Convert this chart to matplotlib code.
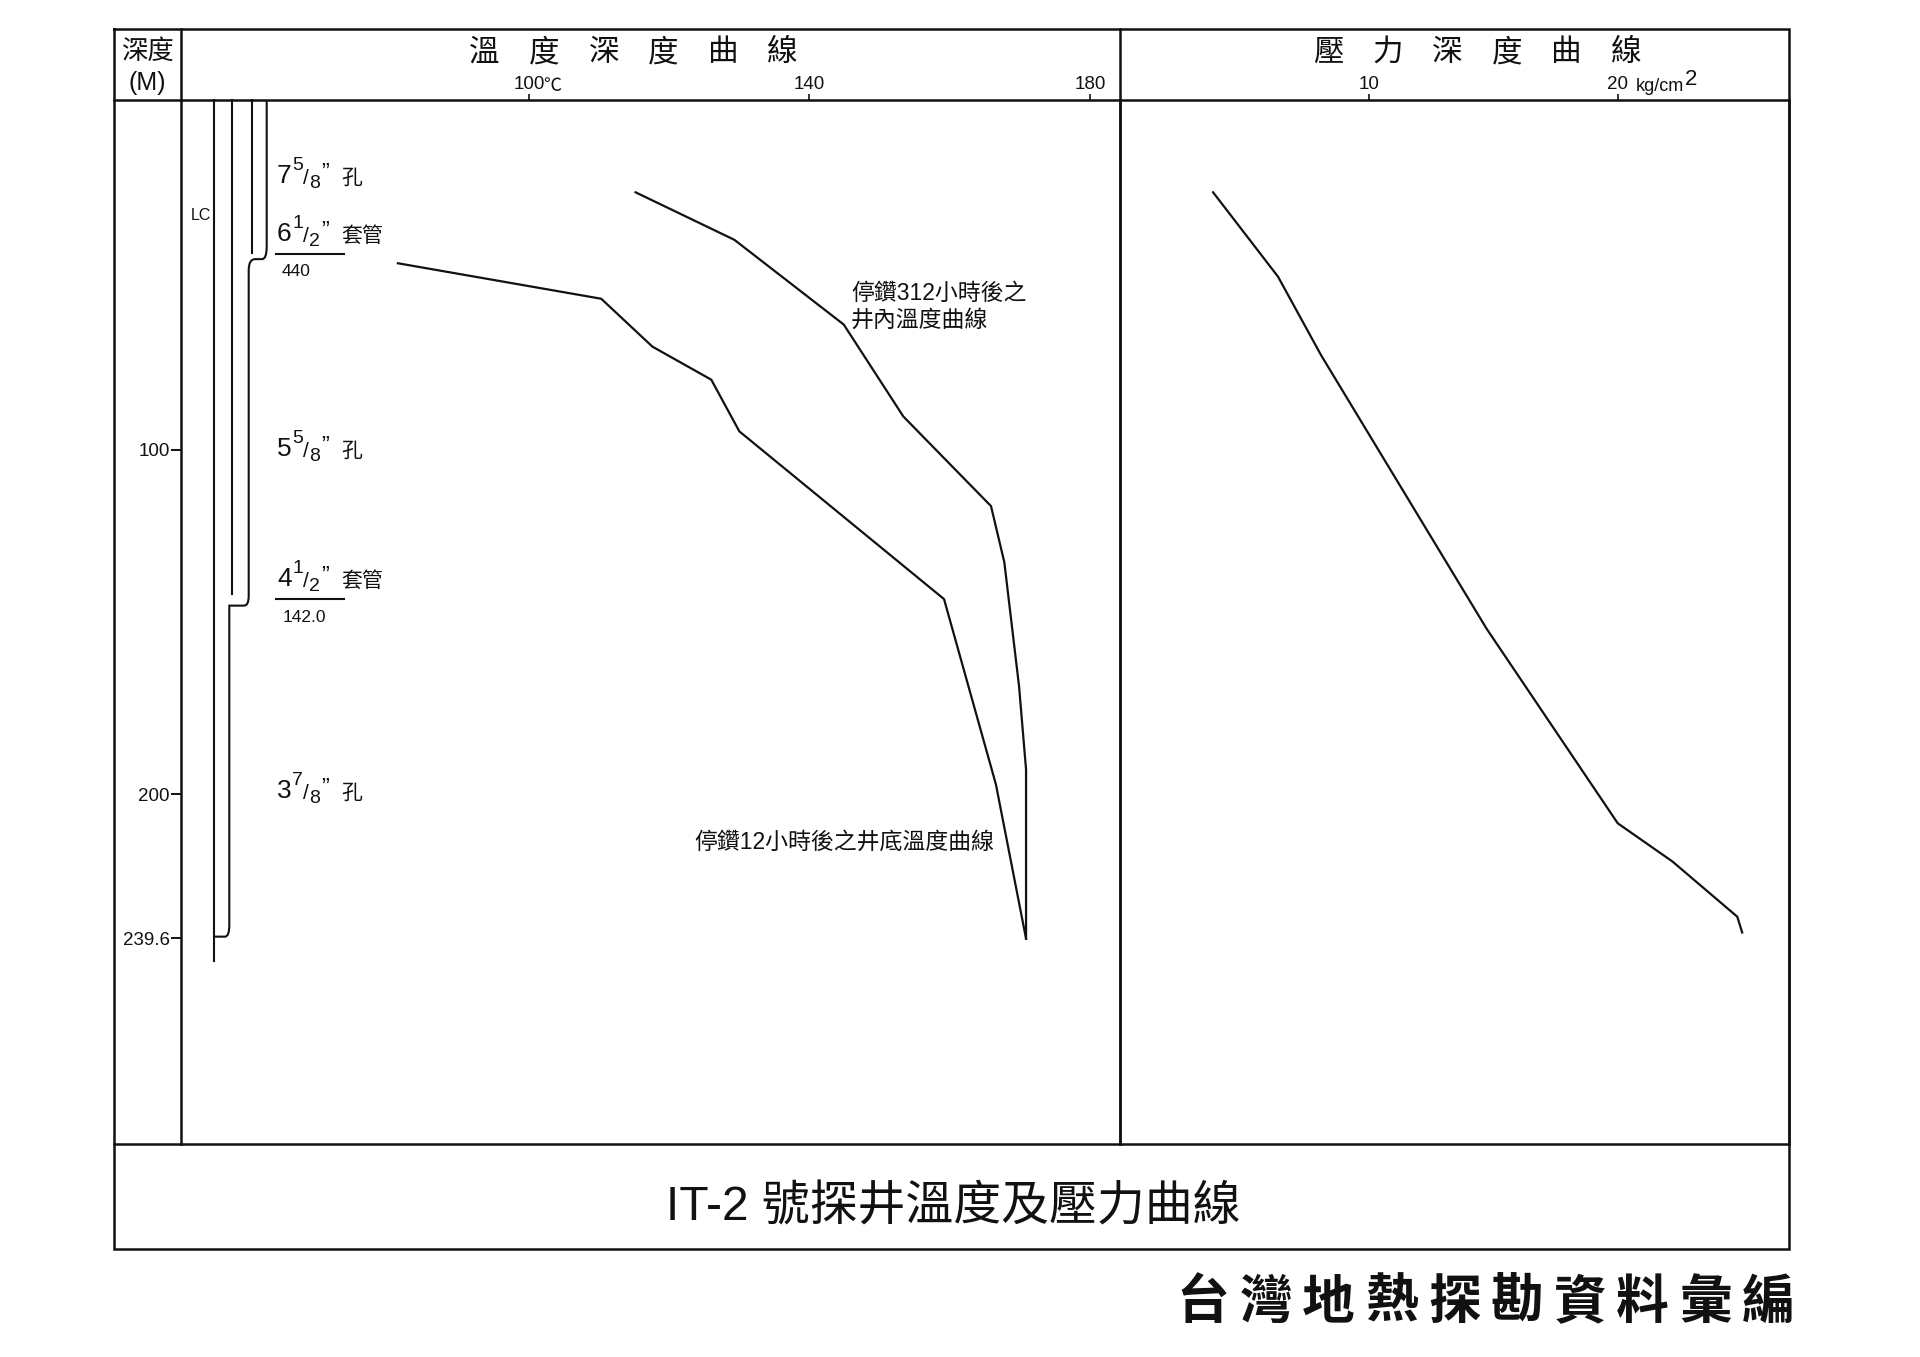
#!/usr/bin/env python3

import matplotlib
matplotlib.use("Agg")
from matplotlib import pyplot as plt
from matplotlib.path import Path
from matplotlib.patches import PathPatch
from matplotlib.transforms import blended_transform_factory

plt.rcParams['font.family'] = ['Liberation Sans', 'Noto Sans CJK TC', 'DejaVu Sans']

# temperature curves, deg C against depth in m
temp_312h = [115.2, 129.3, 144.9, 153.4, 165.9, 167.8, 169.9, 170.9, 170.9]
depth_312h = [25.3, 39.1, 63.7, 90.4, 116.4, 132.7, 168.7, 192.9, 242.0]
temp_12h = [81.3, 110.3, 117.6, 126.0, 130.0, 159.2, 166.6, 170.9]
depth_12h = [45.9, 56.2, 70.1, 79.7, 94.7, 143.4, 197.2, 242.0]

# pressure curve, kg/cm2 against depth in m
pressure = [3.74, 6.35, 8.08, 14.73, 20.0, 22.2, 24.8, 25.0]
depth_pressure = [25.3, 49.8, 72.6, 152.0, 208.5, 219.6, 235.6, 240.2]

temp_ticks = [100, 140, 180]
temp_tick_labels = ['100', '140', '180']
pressure_ticks = [10, 20]
pressure_tick_labels = ['10', '20']
depth_ticks = [100, 200, 241.8]
depth_tick_labels = ['100', '200', '239.6']

W, H = 1920, 1357
LW = 1.8
INK = '#111111'

fig = plt.figure(figsize=(W/100, H/100), dpi=100, facecolor='white')


def px_axes(left, top, right, bottom):
    return fig.add_axes([left/W, 1-bottom/H, (right-left)/W, (bottom-top)/H], facecolor='none')


# page axes in pixels, for the frame and the labels
bg = px_axes(0, 0, W, H)
bg.set_xlim(0, W)
bg.set_ylim(H, 0)
bg.axis('off')

tax = px_axes(181, 100, 1120, 1144)
tax.set_xlim(50.36, 184.3)
tax.set_ylim(301.6, -1.5)
pax = px_axes(1120, 100, 1789, 1144)
pax.set_xlim(0, 26.88)
pax.set_ylim(301.6, -1.5)

for ax in (tax, pax):
    for s in ax.spines.values():
        s.set_linewidth(LW)
        s.set_color(INK)
    ax.xaxis.tick_top()
    ax.tick_params(axis='x', length=4.5, width=1.2, pad=0.5, labelsize=13.5, colors=INK)

tax.set_xticks(temp_ticks, temp_tick_labels)
pax.set_xticks(pressure_ticks, pressure_tick_labels)
tax.set_yticks(depth_ticks, depth_tick_labels)
tax.tick_params(axis='y', length=7, width=1.4, pad=1, labelsize=13.5, colors=INK)
pax.set_yticks([])

tax.plot(temp_312h, depth_312h, color=INK, lw=1.6)
tax.plot(temp_12h, depth_12h, color=INK, lw=1.6)
pax.plot(pressure, depth_pressure, color=INK, lw=1.6)

# outer frame
bg.plot([114, 1789, 1789, 114, 114], [29, 29, 1249, 1249, 29], color=INK, lw=LW, solid_joinstyle='miter')
bg.plot([114, 181], [100, 100], color=INK, lw=LW)
bg.plot([114, 181], [1144, 1144], color=INK, lw=LW)
bg.plot([181, 181], [29, 100], color=INK, lw=LW)
bg.plot([1120, 1120], [29, 100], color=INK, lw=LW)

# well schematic: x in page pixels, y in depth
well = blended_transform_factory(bg.transData, tax.transData)
TOP = -1.5


def well_line(xs, ds):
    tax.plot(xs, ds, color=INK, lw=1.5, transform=well, clip_on=False)


well_line([214.3, 214.3], [TOP, 248.5])
well_line([232.3, 232.3], [TOP, 142.0])
well_line([252, 252], [TOP, 43.0])

casing = Path(
    [(266.7, TOP), (266.7, 41.0), (266.7, 44.7), (262, 44.7), (255, 44.7), (248.7, 44.7), (248.7, 48.0),
     (248.7, 142.5), (248.7, 145.3), (244, 145.3), (229.3, 145.3), (229.3, 238.0), (229.3, 241.4),
     (225, 241.4), (214.3, 241.4)],
    [Path.MOVETO, Path.LINETO, Path.CURVE3, Path.CURVE3, Path.LINETO, Path.CURVE3, Path.CURVE3,
     Path.LINETO, Path.CURVE3, Path.CURVE3, Path.LINETO, Path.LINETO, Path.CURVE3, Path.CURVE3, Path.LINETO])
tax.add_patch(PathPatch(casing, fc='none', ec=INK, lw=1.5, transform=well, clip_on=False))


def label(x, y, s, size, ha='left', va='baseline', **kw):
    bg.text(x, y, s, fontsize=size, ha=ha, va=va, color=INK, **kw)


def spaced(chars, x0, step, y, size, **kw):
    for i, c in enumerate(chars):
        label(x0+i*step, y, c, size, ha='center', va='center', **kw)


def fraction(base, whole, num, den, word):
    label(277, base, whole, 19)
    label(292, base-13, num, 14)
    label(303, base+1, '/', 15)
    label(309, base+5, den, 14)
    label(321, base-3, '”', 17)
    label(341, base+1, word, 15)


# header
label(147, 52, '深度', 19, ha='center', va='center')
label(147, 83, '(M)', 18, ha='center', va='center')
spaced('溫度深度曲線', 484.5, 59.6, 53, 22)
spaced('壓力深度曲線', 1328, 59.6, 53, 22)
label(543, 91, '℃', 13)
label(1636, 91, 'kg/cm', 13)
label(1685, 85, '2', 16)

# hole and casing labels
fraction(183, '7', '5', '8', '孔')
fraction(240.7, '6', '1', '2', '套管')
fraction(455.7, '5', '5', '8', '孔')
fraction(586, '4', '1', '2', '套管')
fraction(798, '3', '7', '8', '孔')
bg.plot([276, 344], [254, 254], color=INK, lw=1.5)
bg.plot([276, 344], [599, 599], color=INK, lw=1.5)
label(296, 271, '440', 12.5, ha='center', va='center')
label(304, 617, '142.0', 12.5, ha='center', va='center')
label(200.5, 215, 'LC', 11.5, ha='center', va='center')

# curve notes
label(851, 293, '停鑽312小時後之', 16.5, va='center')
label(851, 320, '井內溫度曲線', 16.5, va='center')
label(694, 842, '停鑽12小時後之井底溫度曲線', 16.5, va='center')

# captions
label(953, 1208, 'IT-2 號探井溫度及壓力曲線', 34.5, ha='center', va='center')
spaced('台灣地熱探勘資料彙編', 1203, 62.8, 1304, 38, fontweight='bold')

fig.savefig('out.png', dpi=100, facecolor='white')
